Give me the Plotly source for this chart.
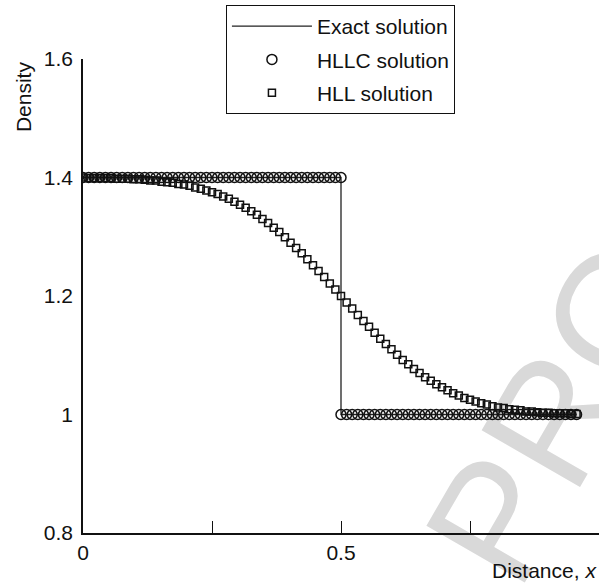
import plotly.graph_objects as go

# ---- data ----
n_cells = 89
cell_x = [round(i * 0.5 / 46, 4) for i in range(n_cells)]   # cell positions (0 ... ~0.957)

exact_x = [0.0, 0.5, 0.5, 0.9565]
exact_y = [1.4, 1.4, 1.0, 1.0]

hllc_x = cell_x[:47] + cell_x[46:]
hllc_y = [1.4] * 47 + [1.0] * 43

hll_y = [
    1.400, 1.399, 1.399, 1.399, 1.399, 1.399, 1.398, 1.398, 1.398, 1.397,
    1.397, 1.396, 1.395, 1.395, 1.393, 1.392, 1.391, 1.389, 1.388, 1.386,
    1.383, 1.381, 1.378, 1.375, 1.372, 1.368, 1.364, 1.359, 1.354, 1.349,
    1.343, 1.337, 1.330, 1.323, 1.315, 1.308, 1.299, 1.290, 1.281, 1.272,
    1.262, 1.252, 1.242, 1.232, 1.221, 1.211, 1.200,
    1.189, 1.179, 1.168, 1.158, 1.148, 1.138, 1.128, 1.119, 1.110, 1.101,
    1.092, 1.085, 1.077, 1.070, 1.063, 1.057, 1.051, 1.046, 1.041, 1.036,
    1.032, 1.028, 1.025, 1.022, 1.019, 1.017, 1.014, 1.012, 1.011, 1.009,
    1.008, 1.007, 1.005, 1.005, 1.004, 1.003, 1.003, 1.002, 1.002, 1.002,
    1.001, 1.001,
]
hll_x = cell_x[:len(hll_y)]

x_tickvals = [0, 0.25, 0.5, 0.75, 1.0]
x_ticktext = ["0", "", "0.5", "", ""]
y_tickvals = [0.8, 1.0, 1.2, 1.4, 1.6]
y_ticktext = ["0.8", "1", "1.2", "1.4", "1.6"]

FONT = "Liberation Sans, Arial, Helvetica, sans-serif"
FS = 21

fig = go.Figure()
fig.add_trace(go.Scatter(x=exact_x, y=exact_y, mode="lines", name="Exact solution",
                         legendgroup="a",
                         line=dict(color="#222222", width=1.3)))
fig.add_trace(go.Scatter(x=hllc_x, y=hllc_y, mode="markers", name="HLLC solution",
                         legendgroup="b",
                         marker=dict(symbol="circle-open", size=10, color="#111111",
                                     line=dict(width=1.5, color="#111111"))))
fig.add_trace(go.Scatter(x=hll_x, y=hll_y, mode="markers", name="HLL solution",
                         legendgroup="c",
                         marker=dict(symbol="square-open", size=7, color="#111111",
                                     line=dict(width=1.5, color="#111111"))))

# watermark, drawn below the data
fig.add_shape(type="rect", xref="paper", yref="paper",
              x0=0.955, x1=1.055, y0=0.434, y1=0.534,
              line=dict(width=0), fillcolor="rgba(0,0,0,0)", layer="below",
              label=dict(text="PROOF", textangle=-60, textposition="middle center",
                         font=dict(size=165, color="#d9d9d9", family=FONT)))

fig.update_layout(
    width=599, height=588,
    margin=dict(l=83, r=0, t=59, b=55),
    paper_bgcolor="white", plot_bgcolor="rgba(0,0,0,0)",
    font=dict(family=FONT, size=FS, color="#111111"),
    showlegend=True,
    legend=dict(x=0.277, y=1.114, xanchor="left", yanchor="top",
                bordercolor="#111111", borderwidth=1, bgcolor="white",
                font=dict(size=FS), itemwidth=80, tracegroupgap=3,
                traceorder="grouped"),
    xaxis=dict(range=[0, 1.0], showline=True, linecolor="#111111", linewidth=1.5,
               showgrid=False, zeroline=False, ticks="inside", ticklen=12,
               tickcolor="#111111", tickwidth=1.3,
               tickvals=x_tickvals, ticktext=x_ticktext, tickfont=dict(size=FS)),
    yaxis=dict(range=[0.8, 1.6], showline=True, linecolor="#111111", linewidth=1.5,
               showgrid=False, zeroline=False, ticks="",
               tickvals=y_tickvals, ticktext=y_ticktext, tickfont=dict(size=FS),
               ticklabelstandoff=4),
    annotations=[
        dict(text="Distance, <i>x</i>", xref="paper", yref="paper", x=1.0, y=-0.08,
             xanchor="right", yanchor="middle", showarrow=False, font=dict(size=FS)),
        dict(text="Density", xref="paper", yref="paper", x=-0.114, y=0.92,
             xanchor="center", yanchor="middle", textangle=-90, showarrow=False,
             font=dict(size=FS)),
    ],
)

fig.write_html("out.html")
